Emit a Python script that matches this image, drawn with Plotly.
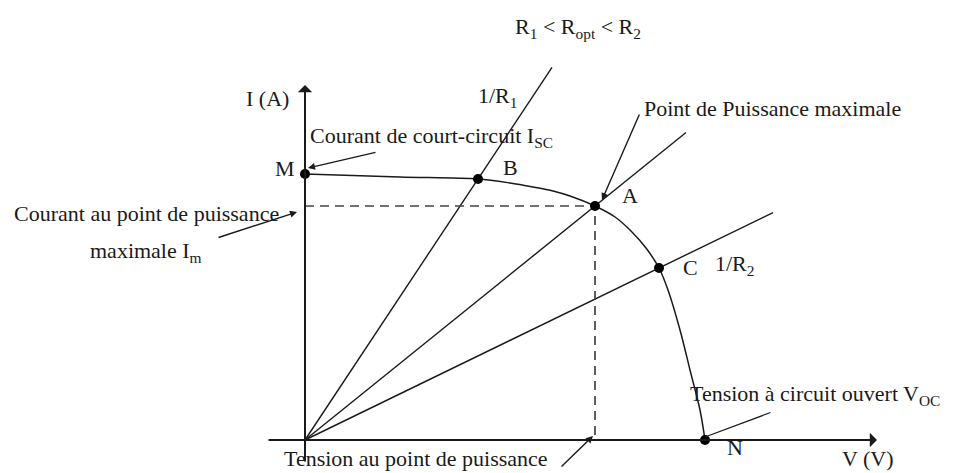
import plotly.graph_objects as go

# I-V characteristic of a PV cell (arbitrary units: V, I)
curve_v = [0.00, 0.95, 1.73, 2.05, 2.28, 2.48, 2.65, 2.90, 3.10, 3.25, 3.41, 3.54, 3.63, 3.75, 3.85, 3.95, 4.00]
curve_i = [2.66, 2.63, 2.61, 2.57, 2.53, 2.49, 2.44, 2.34, 2.23, 2.10, 1.92, 1.72, 1.50, 1.10, 0.70, 0.30, 0.00]

# Named operating points on the curve
point_names = ["M", "B", "A", "C", "N"]
point_v = [0.00, 1.73, 2.90, 3.54, 4.00]
point_i = [2.66, 2.61, 2.34, 1.72, 0.00]

# Load lines I = V/R through B (R1), A (Ropt) and C (R2), and where each ends
load_through = ["B", "A", "C"]
load_v_end = [2.47, 3.81, 4.68]

# Axis extents
v_axis = [-0.38, 5.72]
i_axis = [-0.23, 3.55]

FONT = "Liberation Serif"
FONT_SIZE = 22
INK = "#1a1a1a"

fig = go.Figure()

# load lines from the origin
for name, v_end in zip(load_through, load_v_end):
    k = point_names.index(name)
    slope = point_i[k] / point_v[k]
    fig.add_trace(go.Scatter(x=[0, v_end], y=[0, slope * v_end], mode="lines",
                             line=dict(color=INK, width=1.4), hoverinfo="skip"))

# maximum power point projections
iA = point_names.index("A")
fig.add_trace(go.Scatter(x=[0, point_v[iA], point_v[iA]], y=[point_i[iA], point_i[iA], 0],
                         mode="lines", line=dict(color="#444", width=1.7, dash="9px,6px"),
                         hoverinfo="skip"))

# I-V curve
fig.add_trace(go.Scatter(x=curve_v, y=curve_i, mode="lines",
                         line=dict(color=INK, width=1.5, shape="spline", smoothing=0.9),
                         hoverinfo="skip"))

# operating points
fig.add_trace(go.Scatter(x=point_v, y=point_i, mode="markers",
                         marker=dict(color="black", size=10), hoverinfo="skip"))

annotations = []

def arrow(x_head, y_head, x_tail, y_tail, width=1.4, head=2, size=1.0, show_head=True):
    annotations.append(dict(x=x_head, y=y_head, ax=x_tail, ay=y_tail, xref="x", yref="y",
                            axref="x", ayref="y", text="", showarrow=True,
                            arrowhead=head if show_head else 0, arrowsize=size,
                            arrowwidth=width, arrowcolor=INK, standoff=0, startstandoff=0))

# axes with arrowheads
arrow(v_axis[1], 0, v_axis[0], 0, width=2, head=1, size=1.2)
arrow(0, i_axis[1], 0, i_axis[0], width=2, head=1, size=1.2)

# callout arrows
arrow(0.03, 2.72, 0.72, 2.88)
arrow(2.97, 2.40, 3.35, 3.27)
arrow(-0.08, 2.28, -0.88, 2.02)
arrow(2.88, 0.04, 2.55, -0.28)
arrow(4.00, 0.03, 4.67, 0.28, width=1.2, show_head=False)

def label(x, y, text, anchor="center"):
    annotations.append(dict(x=x, y=y, xref="x", yref="y", text=text, showarrow=False,
                            xanchor=anchor, yanchor="middle",
                            font=dict(family=FONT, size=FONT_SIZE, color=INK)))

label(2.73, 4.12, "R<sub>1</sub> &lt; R<sub>opt</sub> &lt; R<sub>2</sub>")
label(-0.38, 3.42, "I (A)")
label(1.93, 3.43, "1/R<sub>1</sub>")
label(0.03, 3.03, "Courant de court-circuit I<sub>SC</sub>", anchor="left")
label(-0.20, 2.72, "M")
label(2.05, 2.73, "B")
label(3.37, 3.32, "Point de Puissance maximale", anchor="left")
label(3.25, 2.45, "A")
label(3.85, 1.73, "C")
label(4.30, 1.75, "1/R<sub>2</sub>")
label(-2.93, 2.27, "Courant au point de puissance", anchor="left")
label(-1.59, 1.88, "maximale I<sub>m</sub>")
label(1.11, -0.185, "Tension au point de puissance")
label(3.83, 0.45, "Tension à circuit ouvert V<sub>OC</sub>", anchor="left")
label(4.30, -0.07, "N")
label(5.63, -0.185, "V (V)")

fig.update_layout(
    width=962, height=473,
    margin=dict(l=0, r=0, t=0, b=0),
    paper_bgcolor="white", plot_bgcolor="white",
    showlegend=False,
    annotations=annotations,
    xaxis=dict(range=[-3.05, 6.57], visible=False, fixedrange=True),
    yaxis=dict(range=[-0.33, 4.40], visible=False, fixedrange=True),
)

fig.write_html("out.html", config={"displayModeBar": False})
